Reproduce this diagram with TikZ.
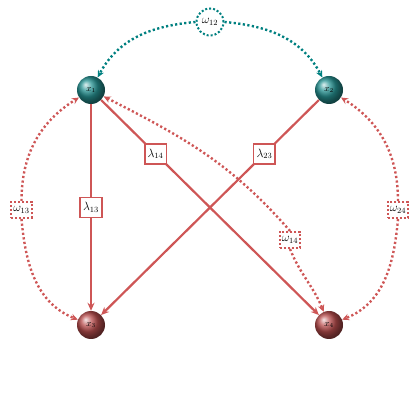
\documentclass[tikz,border=0pt]{standalone}
\usetikzlibrary{arrows.meta,shapes.geometric}
\definecolor{lred}{RGB}{206,86,86}
\definecolor{lteal}{RGB}{0,128,128}
\tikzset{
  ballnode/.style={circle, minimum size=28pt, inner sep=0pt, font=\small, text=black},
  tealball/.style={ballnode, shading=ball, ball color=lteal!85!white},
  redball/.style={ballnode, shading=ball, ball color=lred!90!black},
  lam/.style={draw=lred, line width=1.8pt, fill=white, inner sep=3pt, minimum height=20pt, font=\large},
  omg/.style={draw=lred, line width=2pt, dash pattern=on 2pt off 2pt, fill=white, inner sep=2pt, minimum height=16pt, font=\large},
  omgc/.style={circle, draw=lteal, line width=2pt, dash pattern=on 2pt off 2pt, fill=white, inner sep=0.5pt, minimum size=27pt, font=\large},
  lamedge/.style={draw=lred, line width=2.2pt, -{Stealth[length=8pt,width=7pt]}},
  omedge/.style={draw=lred, line width=2.4pt, dash pattern=on 2.2pt off 2.4pt, -{Stealth[length=7pt,width=6.5pt]}},
  tealedge/.style={draw=lteal, line width=2.4pt, dash pattern=on 2.2pt off 2.4pt, -{Stealth[length=7pt,width=6.5pt]}},
}
\begin{document}
\begin{tikzpicture}[x=1pt,y=1pt]
\useasboundingbox (0,0) rectangle (420,420);
\node[tealball] (x1) at (91,330) {$x_1$};
\node[tealball] (x2) at (329,330) {$x_2$};
\node[redball] (x3) at (91,95) {$x_3$};
\node[redball] (x4) at (329,95) {$x_4$};

\node[omgc] (w12) at (210,398) {$\omega_{12}$};
\node[omg] (w13) at (21.5,210) {$\omega_{13}$};
\node[omg] (w24) at (398,210) {$\omega_{24}$};
\node[omg] (w14) at (290,180) {$\omega_{14}$};

\draw[tealedge] (w12.west) to[out=185,in=62] (x1);
\draw[tealedge] (w12.east) to[out=-5,in=118] (x2);

\draw[omedge] (w13.north) to[out=90,in=212] (x1);
\draw[omedge] (w13.south) to[out=-85,in=158] (x3);
\draw[omedge] (w24.north) to[out=90,in=-32] (x2);
\draw[omedge] (w24.south) to[out=-95,in=22] (x4);
\draw[omedge] (w14.north) to[out=131,in=-27] (x1);
\draw[omedge] (w14.south) to[out=-68,in=112] (x4);

\draw[lamedge] (x1) -- node[lam, pos=0.5] {$\lambda_{13}$} (x3);
\draw[lamedge] (x1) -- node[lam, pos=0.25] {$\lambda_{14}$} (x4);
\draw[lamedge] (x2) -- node[lam, pos=0.25] {$\lambda_{23}$} (x3);
\end{tikzpicture}
\end{document}
